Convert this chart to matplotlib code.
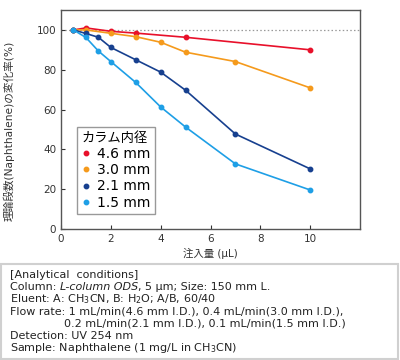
import numpy as np
import matplotlib
matplotlib.use("Agg")
import matplotlib.pyplot as plt
from matplotlib.patches import Rectangle

plt.rcParams['font.family'] = ['DejaVu Sans', 'Noto Sans CJK JP']
plt.rcParams['mathtext.default'] = 'regular'

# data
x_46 = [0.5, 1, 2, 3, 5, 10]
y_46 = [100, 101, 99.3, 98.4, 96.3, 90.0]
x_30 = [0.5, 1, 2, 3, 4, 5, 7, 10]
y_30 = [100, 100, 98.3, 96.6, 93.8, 88.8, 84.1, 70.9]
x_21 = [0.5, 1, 1.5, 2, 3, 4, 5, 7, 10]
y_21 = [100, 98.2, 96.3, 91.2, 85.0, 78.8, 69.7, 47.7, 30.2]
x_15 = [0.5, 1, 1.5, 2, 3, 4, 5, 7, 10]
y_15 = [100, 96.2, 89.4, 84.1, 73.6, 61.3, 51.2, 32.7, 19.6]

labels = ['4.6 mm', '3.0 mm', '2.1 mm', '1.5 mm']
colors = ['#e8102a', '#f59a1c', '#17408f', '#1e9fe6']

# each line: list of (text, style) pieces
conditions = [
    [("[Analytical  conditions]", 'normal')],
    [("Column: ", 'normal'), ("L-column ODS", 'italic'), (", 5 μm; Size: 150 mm L.", 'normal')],
    [("Eluent: A: CH$_3$CN, B: H$_2$O; A/B, 60/40", 'normal')],
    [("Flow rate: 1 mL/min(4.6 mm I.D.), 0.4 mL/min(3.0 mm I.D.),", 'normal')],
    [("0.2 mL/min(2.1 mm I.D.), 0.1 mL/min(1.5 mm I.D.)", 'normal')],
    [("Detection: UV 254 nm", 'normal')],
    [("Sample: Naphthalene (1 mg/L in CH$_3$CN)", 'normal')],
]

fig = plt.figure(figsize=(4.0, 3.6), dpi=100)
ax = fig.add_axes([0.1525, 0.3639, 0.7475, 0.6083])

ax.axhline(100, color='#999999', lw=0.9, ls=(0, (1.2, 1.8)), zorder=1)
series = [(x_46, y_46), (x_30, y_30), (x_21, y_21), (x_15, y_15)]
for (xs, ys), lab, c in zip(series, labels, colors):
    ax.plot(xs, ys, color=c, lw=1.2, marker='o', ms=3.2, label=lab, zorder=3)

ax.set_xlim(0, 12)
ax.set_ylim(0, 110)
ax.set_xticks([0, 2, 4, 6, 8, 10])
ax.set_yticks([0, 20, 40, 60, 80, 100])
ax.tick_params(direction='in', length=3, labelsize=7.5, colors='#333333', width=0.8)
for s in ax.spines.values():
    s.set_color('#555555')
    s.set_linewidth(1.0)
ax.set_xlabel('注入量 (μL)', fontsize=7.5, color='#333333', labelpad=3)
ax.set_ylabel('理論段数(Naphthalene)の変化率(%)', fontsize=7.7, color='#333333')
ax.yaxis.set_label_coords(-0.155, 0.45)

leg = ax.legend(title='カラム内径', loc='lower left', bbox_to_anchor=(0.03, 0.035),
                fontsize=10, title_fontsize=9.5, handlelength=0.6, handletextpad=0.5,
                borderpad=0.35, labelspacing=0.15, markerscale=1.0, fancybox=False,
                framealpha=1)
leg._legend_box.align = 'left'
leg.get_frame().set_edgecolor('#999999')
leg.get_frame().set_linewidth(1.0)
for h in leg.legend_handles:
    h.set_linestyle('none')

# condition box
fig.patches.append(Rectangle((1 / 400, 1 / 360), 397 / 400, 95 / 360, transform=fig.transFigure,
                             fill=False, edgecolor='#d0d0d0', lw=1.5))
renderer = fig.canvas.get_renderer()
y0 = 275
for i, pieces in enumerate(conditions):
    xpos = 64 if i == 4 else 10
    for txt, style in pieces:
        t = fig.text(xpos / 400, 1 - (y0 + i * 12.2) / 360, txt, fontsize=8, color='#222222',
                     va='center', ha='left', style=style, family=['DejaVu Sans'])
        xpos += t.get_window_extent(renderer).width

fig.savefig('out.png', dpi=100)
